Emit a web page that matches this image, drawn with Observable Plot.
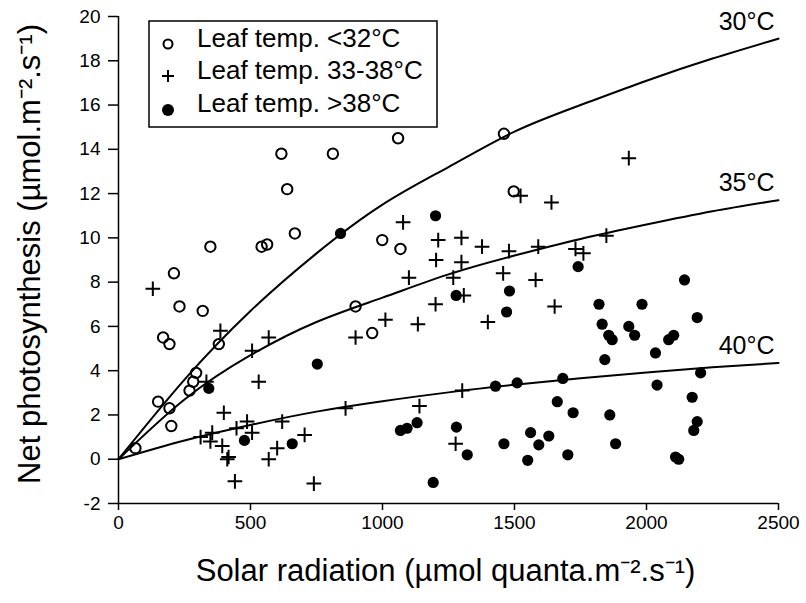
<!DOCTYPE html>
<html>
<head>
<meta charset="utf-8">
<script src="https://cdn.jsdelivr.net/npm/d3@7"></script>
<script src="https://cdn.jsdelivr.net/npm/@observablehq/plot@0.6"></script>
<style>
  body { margin: 0; background: #fff; }
  #chart { width: 806px; height: 603px; }
  svg { font-family: "Liberation Sans", Arial, Helvetica, sans-serif; }
</style>
</head>
<body>
<div id="chart"></div>
<script>
// Tick labels
const xTicks = [0, 500, 1000, 1500, 2000, 2500];
const yTicks = [-2, 0, 2, 4, 6, 8, 10, 12, 14, 16, 18, 20];

// Series: leaf temperature classes, [solar radiation, net photosynthesis]
const leafCool = [
  [64,0.5],[150,2.6],[193,2.3],[200,1.5],[169,5.5],[193,5.2],[210,8.4],[231,6.9],
  [269,3.1],[283,3.5],[294,3.9],[319,6.7],[348,9.6],[380,5.2],[542,9.6],[563,9.7],
  [617,13.8],[639,12.2],[668,10.2],[812,13.8],[898,6.9],[961,5.7],[999,9.9],
  [1059,14.5],[1068,9.5],[1460,14.7],[1497,12.1]
];
const leafMid = [
  [130,7.7],[386,5.8],[333,3.5],[506,4.9],[569,5.5],[531,3.5],[898,5.5],[399,2.1],
  [447,1.4],[487,1.7],[506,1.2],[620,1.7],[311,1.0],[355,1.2],[348,0.8],[393,0.6],
  [412,0.0],[417,0.1],[601,0.5],[569,0.0],[705,1.1],[441,-1.0],[740,-1.1],[860,2.3],
  [1523,11.9],[1640,11.6],[1078,10.7],[1211,9.9],[1299,10.0],[1377,9.6],[1479,9.4],
  [1590,9.6],[1731,9.5],[1761,9.3],[1203,9.0],[1299,8.9],[1100,8.2],[1268,8.2],
  [1457,8.4],[1580,8.1],[1308,7.4],[1011,6.3],[1134,6.1],[1201,7.0],[1399,6.2],
  [1652,6.9],[1140,2.4],[1302,3.1],[1277,0.7],[1933,13.6],[1848,10.1]
];
const leafHot = [
  [342,3.2],[477,0.85],[658,0.7],[753,4.3],[841,10.2],[1201,11.0],[1279,7.4],
  [1481,7.6],[1470,6.65],[1741,8.7],[1820,7.0],[1983,7.0],[2192,6.4],[2144,8.1],
  [1832,6.1],[1857,5.6],[1870,5.4],[1933,6.0],[1955,5.6],[2084,5.4],[2103,5.6],
  [1842,4.5],[2034,4.8],[2205,3.9],[2040,3.35],[1428,3.3],[1510,3.45],[1683,3.65],
  [1662,2.6],[1722,2.1],[1861,2.0],[2173,2.8],[2192,1.7],[2179,1.3],[1883,0.7],
  [1702,0.2],[2110,0.1],[2122,0.0],[1068,1.3],[1093,1.4],[1131,1.65],[1280,1.45],
  [1321,0.2],[1460,0.7],[1561,1.2],[1592,0.65],[1630,1.05],[1550,-0.05],[1192,-1.05]
];

// Fitted response curves
const curveX  = [0, 250, 500, 750, 1000, 1250, 1500, 1750, 2000, 2250, 2500];
const curve30 = [0, 3.6, 6.7, 9.3, 11.5, 13.2, 14.8, 16.0, 17.1, 18.1, 19.0];
const curve35 = [0, 2.7, 4.7, 6.2, 7.3, 8.35, 9.2, 9.95, 10.6, 11.2, 11.7];
const curve40 = [0, 0.85, 1.55, 2.15, 2.62, 3.02, 3.36, 3.66, 3.92, 4.15, 4.35];
const curveNames = ["30°C", "35°C", "40°C"];

const legendLabels = ["Leaf temp. <32°C", "Leaf temp. 33-38°C", "Leaf temp. >38°C"];
const xTitle = "Solar radiation (µmol quanta.m⁻².s⁻¹)";
const yTitle = "Net photosynthesis (µmol.m⁻².s⁻¹)";

const curveRows = [];
[curve30, curve35, curve40].forEach((ys, i) => {
  ys.forEach((y, j) => curveRows.push({x: curveX[j], y, name: curveNames[i]}));
});
const curveEnds = curveNames.map((name, i) => ({
  x: curveX[curveX.length - 1],
  y: [curve30, curve35, curve40][i][curveX.length - 1],
  name
}));

const font = '"Liberation Sans", Arial, Helvetica, sans-serif';

const chart = Plot.plot({
  width: 806,
  height: 603,
  marginLeft: 118,
  marginRight: 28,
  marginTop: 16,
  marginBottom: 100,
  style: {fontFamily: font, background: "#fff", color: "#000"},
  x: {domain: [0, 2500]},
  y: {domain: [-2, 20]},
  marks: [
    Plot.axisY({ticks: yTicks, tickFormat: d => String(d), tickSize: 10, tickPadding: 8, fontSize: 19, label: null, strokeWidth: 1.5}),
    Plot.axisX({ticks: xTicks, tickFormat: d => String(d), tickSize: 7, tickPadding: 5, fontSize: 19, label: null, strokeWidth: 1.5}),
    Plot.ruleX([0], {y1: -2, y2: 20, strokeWidth: 1.5}),
    Plot.ruleY([-2], {x1: 0, x2: 2500, strokeWidth: 1.5}),
    Plot.line(curveRows, {x: "x", y: "y", z: "name", curve: "natural", stroke: "#000", strokeWidth: 2}),
    Plot.text(curveEnds, {x: "x", y: "y", text: "name", textAnchor: "end", dx: -4, dy: -17, fontSize: 25}),
    Plot.dot(leafCool, {x: d => d[0], y: d => d[1], r: 5.2, stroke: "#000", strokeWidth: 2, fill: "none"}),
    Plot.dot(leafMid, {x: d => d[0], y: d => d[1], symbol: "plus", r: 4.8, stroke: "#000", strokeWidth: 2}),
    Plot.dot(leafHot, {x: d => d[0], y: d => d[1], r: 5.6, fill: "#000", stroke: "none"}),
    Plot.text([yTitle], {text: d => d, frameAnchor: "left", textAnchor: "middle", rotate: -90, dx: -88, dy: -6, fontSize: 31}),
    Plot.text([xTitle], {text: d => d, frameAnchor: "bottom", textAnchor: "middle", dy: 77, dx: -3, fontSize: 31})
  ]
});

// Legend box drawn inside the chart's SVG
const svg = d3.select(chart);
const lg = svg.append("g").attr("font-family", font).attr("text-anchor", "start");
lg.append("rect").attr("x", 149).attr("y", 21).attr("width", 288).attr("height", 106)
  .attr("fill", "#fff").attr("stroke", "#000").attr("stroke-width", 1.5);
const rowY = [44, 76, 110];
const baseY = [47, 79, 112];
lg.append("circle").attr("cx", 168).attr("cy", rowY[0]).attr("r", 4.5)
  .attr("fill", "none").attr("stroke", "#000").attr("stroke-width", 2);
lg.append("path").attr("d", `M162,${rowY[1]}h12M168,${rowY[1]-6}v12`)
  .attr("stroke", "#000").attr("stroke-width", 2);
lg.append("circle").attr("cx", 168).attr("cy", rowY[2]).attr("r", 6).attr("fill", "#000");
legendLabels.forEach((t, i) => {
  lg.append("text").attr("x", 197).attr("y", baseY[i]).attr("font-size", 26)
    .attr("text-anchor", "start").attr("fill", "#000").text(t);
});

document.getElementById("chart").appendChild(chart);
</script>
</body>
</html>
